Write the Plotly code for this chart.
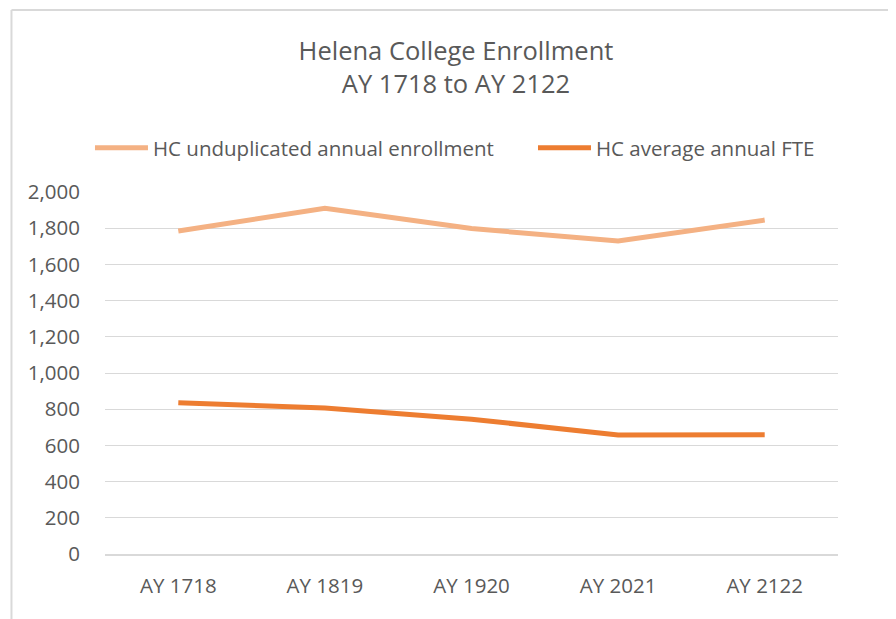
import plotly.graph_objects as go

# dados
anos = ["AY 1718", "AY 1819", "AY 1920", "AY 2021", "AY 2122"]
matricula_anual = [1785, 1910, 1798, 1729, 1845]
fte_medio = [836, 806, 745, 657, 659]

fonte = "Open Sans"
cinza_texto = "#595959"
cinza_grade = "#d9d9d9"

fig = go.Figure()
fig.add_trace(go.Scatter(
    x=anos, y=matricula_anual, mode="lines",
    name="HC unduplicated annual enrollment",
    line=dict(color="#F4B183", width=5),
    legend="legend"
))
fig.add_trace(go.Scatter(
    x=anos, y=fte_medio, mode="lines",
    name="HC average annual FTE",
    line=dict(color="#ED7D31", width=5),
    legend="legend2"
))

# moldura do gráfico (só a borda esquerda e a superior aparecem)
fig.add_shape(type="line", xref="paper", yref="paper",
              x0=-0.1276, x1=1.15, y0=1.503, y1=1.503,
              line=dict(color=cinza_grade, width=2))
fig.add_shape(type="line", xref="paper", yref="paper",
              x0=-0.1276, x1=-0.1276, y0=1.503, y1=-0.3,
              line=dict(color=cinza_grade, width=2))

legenda_base = dict(
    orientation="h", y=1.1215, yanchor="middle", xanchor="left",
    font=dict(size=20.5, color=cinza_texto),
    itemwidth=53,
)

fig.update_layout(
    width=896, height=619,
    template="plotly_white",
    paper_bgcolor="white", plot_bgcolor="white",
    margin=dict(l=97, r=66, t=184, b=73),
    font=dict(family=fonte, color=cinza_texto, size=20),
    title=dict(
        text="Helena College Enrollment<br>AY 1718 to AY 2122",
        x=0.5, xref="container", xanchor="center",
        y=0.916, yref="container", yanchor="top",
        font=dict(size=25.5, color=cinza_texto, family=fonte)
    ),
    legend=dict(legenda_base, x=-0.0205),
    legend2=dict(legenda_base, x=0.5839),
    showlegend=True,
)
fig.update_xaxes(
    range=[-0.5, 4.5],
    showgrid=False, showline=True, linecolor=cinza_grade, linewidth=1.5,
    ticks="", tickfont=dict(size=20.5), ticklabelstandoff=13,
)
fig.update_yaxes(
    range=[0, 2000], dtick=200, tickformat=",d",
    showgrid=True, gridcolor=cinza_grade, gridwidth=1,
    zeroline=False, showline=False, ticks="",
    tickfont=dict(size=20.5), ticklabelstandoff=24,
)

fig.write_html("out.html")
